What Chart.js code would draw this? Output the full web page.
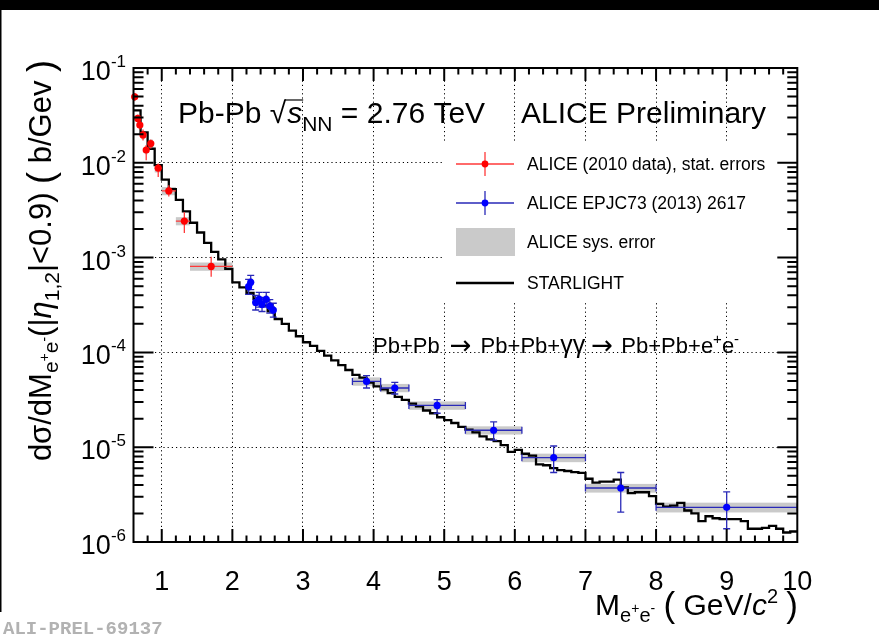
<!DOCTYPE html>
<html><head><meta charset="utf-8">
<script src="https://cdn.jsdelivr.net/npm/chart.js@4.4.0/dist/chart.umd.min.js"></script>
<style>html,body{margin:0;padding:0;background:#fff;}canvas{display:block;}</style>
</head><body>
<canvas id="c" width="879" height="637"></canvas>
<script>
// ---------------- DATA ----------------
const xTickValues = [1, 2, 3, 4, 5, 6, 7, 8, 9, 10];
const yDecades = [1e-6, 1e-5, 1e-4, 1e-3, 1e-2, 1e-1];
const yDecadeExponents = ['-6', '-5', '-4', '-3', '-2', '-1'];

// STARLIGHT histogram (bin lower edges, last bin ends at 10)
const starlightBinLow = [0.6,0.7,0.8,0.9,1.0,1.1,1.2,1.3,1.4,1.5,1.6,1.7,1.8,1.9,
  2.0,2.1,2.2,2.3,2.4,2.5,2.6,2.7,2.8,2.9,3.0,3.1,3.2,3.3,3.4,3.5,3.6,3.7,3.8,3.9,
  4.0,4.1,4.2,4.3,4.4,4.5,4.6,4.7,4.8,4.9,5.0,5.1,5.2,5.3,5.4,5.5,5.6,5.7,5.8,5.9,
  6.0,6.1,6.2,6.3,6.4,6.5,6.6,6.7,6.8,6.9,7.0,7.1,7.2,7.3,7.4,7.5,7.6,7.7,7.8,7.9,
  8.0,8.1,8.2,8.3,8.4,8.5,8.6,8.7,8.8,8.9,9.0,9.1,9.2,9.3,9.4,9.5,9.6,9.7,9.8,9.9];
const starlightBinEnd = 10.0;
const starlightValues = [0.0358,0.02094,0.01406,0.00946,0.00665,0.00527,0.00407,0.00308,0.00233,0.00184,0.00143,0.00115,9.57e-4,7.59e-4,
  5.47e-4,4.86e-4,4.23e-4,3.67e-4,3.12e-4,2.71e-4,2.25e-4,2.00e-4,1.70e-4,1.48e-4,1.28e-4,1.17e-4,1.04e-4,9.25e-5,8.24e-5,7.33e-5,6.52e-5,5.80e-5,5.41e-5,4.81e-5,
  4.38e-5,4.08e-5,3.72e-5,3.39e-5,3.16e-5,2.88e-5,2.69e-5,2.44e-5,2.28e-5,2.07e-5,1.93e-5,1.80e-5,1.64e-5,1.53e-5,1.43e-5,1.30e-5,1.21e-5,1.16e-5,1.05e-5,8.93e-6,
  9.37e-6,8.53e-6,8.15e-6,6.60e-6,6.45e-6,6.01e-6,5.74e-6,5.61e-6,5.47e-6,5.35e-6,4.65e-6,4.23e-6,4.34e-6,4.34e-6,4.54e-6,3.77e-6,3.27e-6,3.35e-6,3.35e-6,3.05e-6,
  2.53e-6,2.36e-6,2.42e-6,2.59e-6,2.15e-6,2.00e-6,1.66e-6,1.87e-6,1.78e-6,1.74e-6,1.74e-6,1.74e-6,1.66e-6,1.38e-6,1.38e-6,1.41e-6,1.48e-6,1.38e-6,1.26e-6,1.29e-6];

// ALICE (2010 data), stat. errors
const redX     = [0.617, 0.66, 0.69, 0.735, 0.78, 0.845, 0.95, 1.1, 1.32, 1.7];
const redY     = [0.0497, 0.0294, 0.0250, 0.0197, 0.01365, 0.01596, 0.00877, 0.00505, 0.00243, 8.07e-4];
const redYHi   = [0.0545, 0.0322, 0.0278, 0.0224, 0.01545, 0.01766, 0.00982, 0.0058, 0.00303, 1.02e-3];
const redYLo   = [0.0452, 0.0268, 0.0224, 0.0172, 0.01062, 0.01413, 0.0071, 0.00441, 0.00182, 6.28e-4];
const redXLo   = [0.605, 0.645, 0.675, 0.715, 0.76, 0.815, 0.90, 1.0, 1.2, 1.4];
const redXHi   = [0.63, 0.675, 0.705, 0.755, 0.80, 0.875, 1.0, 1.2, 1.4, 2.0];
const redSysLo = [0.0447, 0.0265, 0.0225, 0.0177, 0.0123, 0.0144, 0.0079, 0.00455, 0.00219, 7.26e-4];
const redSysHi = [0.0547, 0.0323, 0.0275, 0.0217, 0.0150, 0.0176, 0.0096, 0.00556, 0.00267, 8.88e-4];

// ALICE EPJC73 (2013) 2617
const blueX     = [2.23, 2.26, 2.33, 2.38, 2.42, 2.48, 2.53, 2.58, 3.9, 4.3, 4.9, 5.7, 6.55, 7.5, 9.0];
const blueY     = [4.93e-4, 5.49e-4, 3.37e-4, 3.63e-4, 3.21e-4, 3.63e-4, 3.08e-4, 2.80e-4, 4.94e-5, 4.21e-5, 2.76e-5, 1.51e-5, 7.76e-6, 3.71e-6, 2.32e-6];
const blueYHi   = [5.9e-4, 6.5e-4, 4.0e-4, 4.3e-4, 3.8e-4, 4.3e-4, 3.6e-4, 3.3e-4, 5.69e-5, 4.83e-5, 3.18e-5, 1.85e-5, 1.03e-5, 5.41e-6, 3.38e-6];
const blueYLo   = [4.1e-4, 4.6e-4, 2.8e-4, 3.0e-4, 2.7e-4, 3.0e-4, 2.6e-4, 2.35e-4, 4.21e-5, 3.64e-5, 2.28e-5, 1.19e-5, 5.41e-6, 2.07e-6, 1.38e-6];
const blueXLo   = [2.215, 2.245, 2.315, 2.365, 2.405, 2.465, 2.515, 2.565, 3.7, 4.1, 4.5, 5.3, 6.1, 7.0, 8.0];
const blueXHi   = [2.245, 2.275, 2.345, 2.395, 2.435, 2.495, 2.545, 2.595, 4.1, 4.5, 5.3, 6.1, 7.0, 8.0, 10.0];
const blueSysLo = [4.45e-4, 4.95e-4, 3.05e-4, 3.27e-4, 2.9e-4, 3.27e-4, 2.78e-4, 2.52e-4, 4.45e-5, 3.8e-5, 2.48e-5, 1.36e-5, 6.95e-6, 3.32e-6, 2.05e-6];
const blueSysHi = [5.4e-4, 6.0e-4, 3.7e-4, 4.0e-4, 3.5e-4, 4.0e-4, 3.4e-4, 3.1e-4, 5.45e-5, 4.65e-5, 3.04e-5, 1.66e-5, 8.55e-6, 4.1e-6, 2.6e-6];

const legendLabels = ['ALICE (2010 data), stat. errors', 'ALICE EPJC73 (2013) 2617', 'ALICE sys. error', 'STARLIGHT'];

// ---------------- BUILD ----------------
const FONT = "'Liberation Sans', Arial, Helvetica, sans-serif";
const starPts = [];
starlightBinLow.forEach((lo, i) => {
  const hi = i + 1 < starlightBinLow.length ? starlightBinLow[i + 1] : starlightBinEnd;
  starPts.push({x: lo, y: starlightValues[i]});
  starPts.push({x: hi, y: starlightValues[i]});
});
const redPts = redX.map((x, i) => ({x, y: redY[i]}));
const bluePts = blueX.map((x, i) => ({x, y: blueY[i]}));

function setFont(ctx, r) { ctx.font = (r.it ? 'italic ' : '') + r.s + 'px ' + (r.f || FONT); }
function runsWidth(ctx, runs) { let w = 0; runs.forEach(r => { setFont(ctx, r); w += ctx.measureText(r.t).width; }); return w; }
function drawRuns(ctx, runs, x, y) {
  runs.forEach(r => { setFont(ctx, r); ctx.fillText(r.t, x, y + (r.dy || 0)); x += ctx.measureText(r.t).width; });
  return x;
}

function clipArea(ctx, a) { ctx.save(); ctx.beginPath(); ctx.rect(a.left, a.top, a.right - a.left, a.bottom - a.top); ctx.clip(); }

function drawErrors(ctx, xs, ys, xlo, xhi, ylo, yhi, color, cap) {
  ctx.strokeStyle = color; ctx.lineWidth = 1.3;
  xs.forEach((xv, i) => {
    const px = sx(xv), py = sy(ys[i]);
    const x1 = sx(xlo[i]), x2 = sx(xhi[i]), y1 = sy(ylo[i]), y2 = sy(yhi[i]);
    ctx.beginPath();
    ctx.moveTo(x1, py); ctx.lineTo(x2, py);
    ctx.moveTo(px, y1); ctx.lineTo(px, y2);
    if (cap) {
      ctx.moveTo(x1, py - cap); ctx.lineTo(x1, py + cap);
      ctx.moveTo(x2, py - cap); ctx.lineTo(x2, py + cap);
      ctx.moveTo(px - cap, y1); ctx.lineTo(px + cap, y1);
      ctx.moveTo(px - cap, y2); ctx.lineTo(px + cap, y2);
    }
    ctx.stroke();
  });
}
function drawSys(ctx, xlo, xhi, slo, shi) {
  ctx.fillStyle = '#cacaca';
  xlo.forEach((v, i) => {
    const x1 = sx(v), x2 = sx(xhi[i]), y1 = sy(shi[i]), y2 = sy(slo[i]);
    ctx.fillRect(x1, y1, x2 - x1, y2 - y1);
  });
}
let CH = null;
function sx(v) { return CH.scales.x.getPixelForValue(v); }
function sy(v) { return CH.scales.y.getPixelForValue(v); }

const rootPlugin = {
  id: 'rootStyle',
  beforeDatasetsDraw(chart) {
    CH = chart;
    const ctx = chart.ctx;
    // legend background (white, hides grid)
    ctx.fillStyle = '#fff';
    ctx.fillRect(443, 143, 342, 160);
    clipArea(ctx, chart.chartArea);
    drawSys(ctx, redXLo, redXHi, redSysLo, redSysHi);
    drawSys(ctx, blueXLo, blueXHi, blueSysLo, blueSysHi);
    ctx.restore();
  },
  beforeDatasetDraw(chart, args) {
    CH = chart;
    const ctx = chart.ctx;
    clipArea(ctx, chart.chartArea);
    if (args.index === 1) drawErrors(ctx, redX, redY, redXLo, redXHi, redYLo, redYHi, '#ff3a3a', 0);
    if (args.index === 2) drawErrors(ctx, blueX, blueY, blueXLo, blueXHi, blueYLo, blueYHi, '#2a2ab8', 3.5);
    ctx.restore();
  },
  afterDraw(chart) {
    CH = chart;
    const ctx = chart.ctx;
    const a = chart.chartArea;
    ctx.save();
    // page decorations
    ctx.fillStyle = '#000';
    ctx.fillRect(0, 0, 879, 10);
    ctx.fillRect(0, 0, 1.5, 612);
    // frame
    ctx.strokeStyle = '#000'; ctx.lineWidth = 2;
    ctx.strokeRect(a.left, a.top, a.right - a.left, a.bottom - a.top);
    // x ticks
    ctx.beginPath();
    for (let k = 4; k < 50; k++) {
      const v = k / 5; if (v <= 0.6 || v >= 10) continue;
      const major = k % 5 === 0;
      const L = major ? 13 : 6.5;
      const p = sx(v);
      ctx.moveTo(p, a.bottom); ctx.lineTo(p, a.bottom - L);
      ctx.moveTo(p, a.top); ctx.lineTo(p, a.top + L);
    }
    // y ticks
    for (let d = -6; d <= -1; d++) {
      for (let m = 1; m <= 9; m++) {
        if (d === -1 && m > 1) break;
        const v = m * Math.pow(10, d);
        const p = sy(v);
        const L = m === 1 ? 20 : 10;
        ctx.moveTo(a.left, p); ctx.lineTo(a.left + L, p);
        ctx.moveTo(a.right, p); ctx.lineTo(a.right - L, p);
      }
    }
    ctx.stroke();
    // y tick labels
    ctx.fillStyle = '#000'; ctx.textBaseline = 'alphabetic'; ctx.textAlign = 'left';
    yDecades.forEach((v, i) => {
      const p = sy(v);
      const runs = [{t: '10', s: 27}, {t: yDecadeExponents[i], s: 17, dy: -13}];
      const w = runsWidth(ctx, runs);
      drawRuns(ctx, runs, 126 - w, p + 12);
    });
    // y axis title (rotated)
    const yRuns = [
      {t: 'd\u03C3/dM', s: 31}, {t: 'e', s: 21, dy: 7}, {t: '+', s: 14, dy: -2}, {t: 'e', s: 21, dy: 7}, {t: '-', s: 14, dy: -2},
      {t: '(|', s: 31}, {t: '\u03B7', s: 31, it: true}, {t: '1,2', s: 21, dy: 8}, {t: '|<0.9)', s: 31},
      {t: ' ', s: 31}, {t: '(', s: 36, dy: 2}, {t: ' b/Gev ', s: 31}, {t: ')', s: 36, dy: 2}
    ];
    const yw = runsWidth(ctx, yRuns);
    ctx.save();
    ctx.translate(51, 60 + yw);
    ctx.rotate(-Math.PI / 2);
    drawRuns(ctx, yRuns, 0, 0);
    ctx.restore();
    // x axis title
    const xRuns = [
      {t: 'M', s: 30}, {t: 'e', s: 20, dy: 7}, {t: '+', s: 14, dy: -2}, {t: 'e', s: 20, dy: 7}, {t: '-', s: 14, dy: -2},
      {t: ' ', s: 30}, {t: '(', s: 35, dy: 2}, {t: ' GeV/', s: 30}, {t: 'c', s: 30, it: true}, {t: '2', s: 20, dy: -12}, {t: ' ', s: 30}, {t: ')', s: 35, dy: 2}
    ];
    const xw = runsWidth(ctx, xRuns);
    drawRuns(ctx, xRuns, 798 - xw, 615);
    // title
    let tx = drawRuns(ctx, [{t: 'Pb-Pb ', s: 30}], 178, 123);
    setFont(ctx, {s: 30});
    ctx.fillText('\u221A', tx, 123);
    tx += ctx.measureText('\u221A').width + 1;
    setFont(ctx, {s: 30, it: true});
    const sW = ctx.measureText('s').width;
    ctx.lineWidth = 1.2;
    ctx.beginPath(); ctx.moveTo(tx - 2, 100); ctx.lineTo(tx + sW + 1, 100); ctx.stroke();
    tx = drawRuns(ctx, [{t: 's', s: 30, it: true}, {t: 'NN', s: 21, dy: 8}, {t: ' = 2.76 TeV', s: 30}], tx, 123);
    drawRuns(ctx, [{t: 'ALICE Preliminary', s: 30}], 521, 123);
    // reaction
    const ARW = "'DejaVu Sans', sans-serif";
    drawRuns(ctx, [
      {t: 'Pb+Pb', s: 22}, {t: ' ', s: 36}, {t: '\u2192', s: 26, f: ARW, dy: 1}, {t: ' ', s: 33},
      {t: 'Pb+Pb+', s: 22}, {t: '\u03B3\u03B3', s: 25}, {t: ' ', s: 22}, {t: '\u2192', s: 26, f: ARW, dy: 1}, {t: ' ', s: 30},
      {t: 'Pb+Pb+e', s: 22}, {t: '+', s: 15, dy: -9}, {t: 'e', s: 22}, {t: '-', s: 15, dy: -9}
    ], 373, 353);
    // legend
    const lx1 = 456, lx2 = 514, lxm = 485, ltx = 527;
    const legY = [164, 203, 242, 283];
    ctx.strokeStyle = '#ff3a3a'; ctx.lineWidth = 1.3;
    ctx.beginPath(); ctx.moveTo(lx1, legY[0]); ctx.lineTo(lx2, legY[0]); ctx.moveTo(lxm, legY[0] - 12); ctx.lineTo(lxm, legY[0] + 12); ctx.stroke();
    ctx.fillStyle = '#ff0000'; ctx.beginPath(); ctx.arc(lxm, legY[0], 3.4, 0, Math.PI * 2); ctx.fill();
    ctx.strokeStyle = '#2a2ab8';
    ctx.beginPath(); ctx.moveTo(lx1, legY[1]); ctx.lineTo(lx2, legY[1]); ctx.moveTo(lxm, legY[1] - 12); ctx.lineTo(lxm, legY[1] + 12); ctx.stroke();
    ctx.fillStyle = '#0000ff'; ctx.beginPath(); ctx.arc(lxm, legY[1], 3.4, 0, Math.PI * 2); ctx.fill();
    ctx.fillStyle = '#cacaca'; ctx.fillRect(lx1, legY[2] - 14, lx2 - lx1 + 1, 28);
    ctx.strokeStyle = '#000'; ctx.lineWidth = 2.4;
    ctx.beginPath(); ctx.moveTo(lx1, legY[3]); ctx.lineTo(lx2, legY[3]); ctx.stroke();
    ctx.fillStyle = '#000'; ctx.textBaseline = 'middle';
    legendLabels.forEach((t, i) => { setFont(ctx, {s: 17.5}); ctx.fillText(t, ltx, legY[i] + 1); });
    // watermark
    ctx.textBaseline = 'alphabetic';
    ctx.fillStyle = '#b2b2b2';
    ctx.font = "bold 19px 'Liberation Mono', 'DejaVu Sans Mono', monospace";
    ctx.fillText('ALI-PREL-69137', 3, 634);
    ctx.restore();
  }
};

CH = new Chart(document.getElementById('c').getContext('2d'), {
  type: 'scatter',
  data: {
    datasets: [
      {label: 'STARLIGHT', type: 'line', data: starPts, borderColor: '#000', borderWidth: 2.3, pointRadius: 0, tension: 0, fill: false, order: 3, borderJoinStyle: 'miter'},
      {label: legendLabels[0], data: redPts, pointRadius: 3.6, pointBackgroundColor: '#ff0000', pointBorderWidth: 0, showLine: false, order: 1, clip: false},
      {label: legendLabels[1], data: bluePts, pointRadius: 3.6, pointBackgroundColor: '#0000ff', pointBorderWidth: 0, showLine: false, order: 2}
    ]
  },
  options: {
    responsive: false, animation: false, devicePixelRatio: 1,
    layout: {padding: {top: 68, right: 81.7, left: 0, bottom: 0}},
    plugins: {legend: {display: false}, tooltip: {enabled: false}},
    scales: {
      x: {
        type: 'linear', min: 0.6, max: 10,
        afterBuildTicks: s => { s.ticks = xTickValues.map(v => ({value: v})); },
        afterFit: s => { s.height = 95; },
        grid: {color: '#000', lineWidth: 1, drawTicks: false},
        border: {display: false, dash: [1.2, 3]},
        ticks: {font: {family: FONT, size: 27}, color: '#000', padding: 24, maxRotation: 0, autoSkip: false,
                callback: v => String(v)}
      },
      y: {
        type: 'logarithmic', min: 1e-6, max: 0.1,
        afterBuildTicks: s => { s.ticks = yDecades.map(v => ({value: v})); },
        afterFit: s => { s.width = 133.5; },
        grid: {color: '#000', lineWidth: 1, drawTicks: false},
        border: {display: false, dash: [1.2, 3]},
        ticks: {display: false}
      }
    }
  },
  plugins: [rootPlugin]
});
</script>
</body></html>
